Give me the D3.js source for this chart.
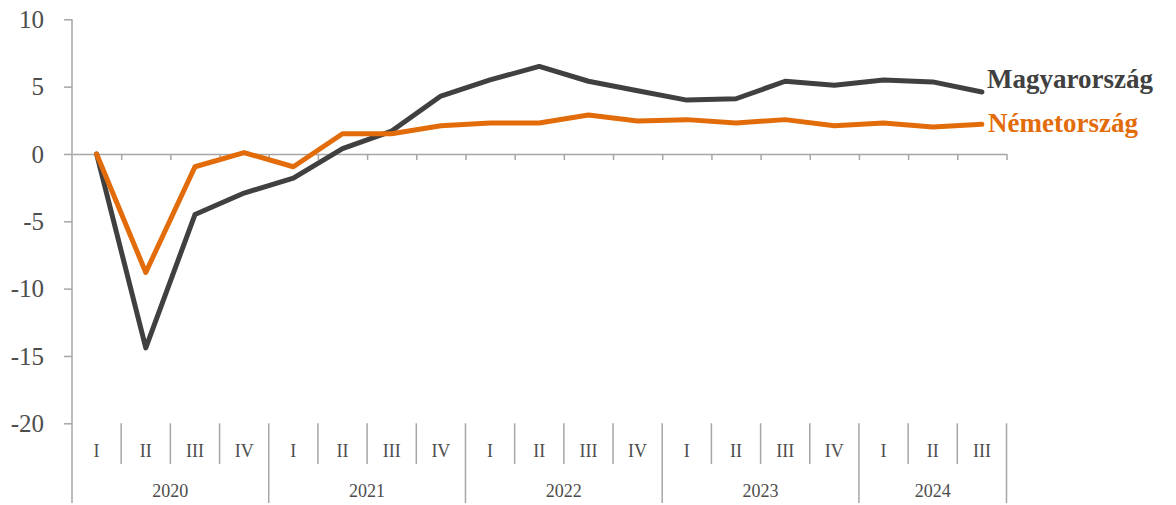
<!DOCTYPE html>
<html><head><meta charset="utf-8">
<script src="https://cdn.jsdelivr.net/npm/d3@7"></script>
<style>body{margin:0;background:#fff}svg{display:block}text{font-family:"Liberation Serif","DejaVu Serif",serif}</style>
</head><body>
<svg id="c" width="1176" height="505"></svg>
<script>
const quarters = ["I","II","III","IV","I","II","III","IV","I","II","III","IV","I","II","III","IV","I","II","III"];
const years = ["2020","2021","2022","2023","2024"];
const hungary = [0,-14.4,-4.5,-2.9,-1.8,0.4,1.7,4.3,5.5,6.5,5.4,4.7,4.0,4.1,5.4,5.1,5.5,5.35,4.6];
const germany = [0,-8.8,-0.95,0.1,-0.95,1.5,1.5,2.1,2.3,2.3,2.9,2.45,2.55,2.3,2.55,2.1,2.3,2.0,2.2];
const yTicks = [-20,-15,-10,-5,0,5,10];
const seriesNames = ["Magyarország","Németország"];

const svg = d3.select("#c");
const axisCol = "#a6a6a6", textCol = "#4d4d4d";
const colors = ["#404040","#e36c0a"];
const idx = d3.range(quarters.length);
const x = d3.scaleBand().domain(idx).range([72,1006.5]);
const xb = d3.scaleLinear().domain([0,quarters.length]).range([72,1006.5]);
const y = d3.scaleLinear().domain([-20,10]).range([423.3,19.3]);

// y axis
const ya = svg.append("g").attr("transform","translate(72,0)")
  .call(d3.axisLeft(y).tickValues(yTicks).tickSize(8).tickPadding(20).tickFormat(d=>d));
ya.select(".domain").remove();
ya.selectAll("line").attr("stroke",axisCol).attr("stroke-width",1.5);
ya.selectAll("text").attr("font-size",25).attr("fill",textCol).attr("font-family","Liberation Serif").attr("dy","0.33em");
svg.append("line").attr("x1",72).attr("x2",72).attr("y1",y(10)).attr("y2",503).attr("stroke",axisCol).attr("stroke-width",1.5);

// zero axis
const za = svg.append("g").attr("transform",`translate(0,${y(0)})`)
  .call(d3.axisBottom(xb).tickValues(d3.range(1,quarters.length+1)).tickSize(6).tickSizeOuter(0).tickFormat(""));
za.select(".domain").attr("stroke",axisCol).attr("stroke-width",1.5);
za.selectAll("line").attr("stroke",axisCol).attr("stroke-width",1.5);

// category dividers
svg.append("g").selectAll("line").data(d3.range(1,quarters.length+1)).join("line")
  .attr("x1",d=>xb(d)).attr("x2",d=>xb(d)).attr("y1",y(-20))
  .attr("y2",d=>(d%4===0||d===quarters.length)?503:464)
  .attr("stroke",axisCol).attr("stroke-width",1.5);
svg.append("g").selectAll("text").data(idx).join("text")
  .attr("x",d=>x(d)+x.bandwidth()/2).attr("y",457).attr("text-anchor","middle")
  .attr("font-size",18).attr("fill",textCol).text(d=>quarters[d]);
svg.append("g").selectAll("text").data(years).join("text")
  .attr("x",(d,i)=>{const s=i*4,e=Math.min(i*4+4,quarters.length);return (xb(s)+xb(e))/2;})
  .attr("y",497).attr("text-anchor","middle").attr("font-size",18).attr("fill",textCol).text(d=>d);

// lines
const line = d3.line().x((d,i)=>x(i)+x.bandwidth()/2).y(d=>y(d));
[hungary,germany].forEach((s,k)=>{
  svg.append("path").datum(s).attr("d",line).attr("fill","none").attr("stroke",colors[k])
    .attr("stroke-width",5).attr("stroke-linejoin","round").attr("stroke-linecap","round");
});

// labels
svg.append("text").attr("x",987).attr("y",88).attr("font-size",27).attr("font-weight","bold").attr("fill",colors[0]).text(seriesNames[0]);
svg.append("text").attr("x",988).attr("y",132).attr("font-size",27).attr("font-weight","bold").attr("fill",colors[1]).text(seriesNames[1]);
</script>
</body></html>
